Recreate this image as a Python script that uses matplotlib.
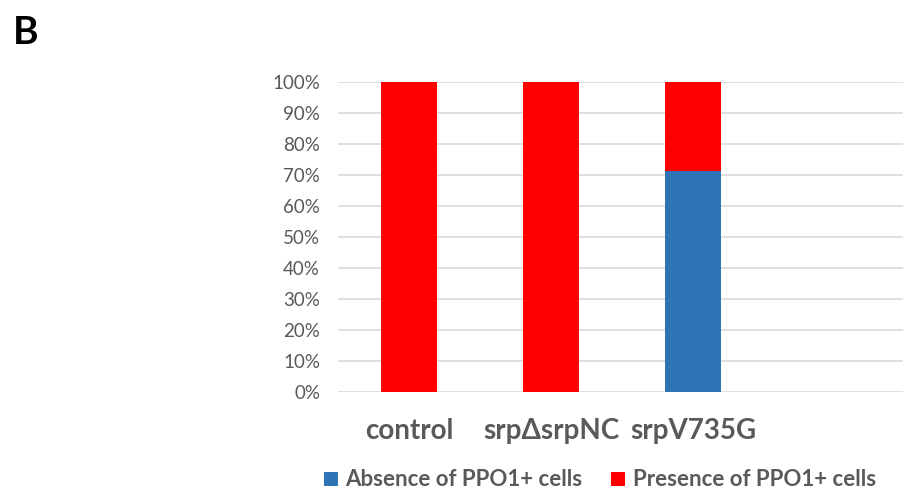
import matplotlib.pyplot as plt
import numpy as np
from matplotlib.ticker import PercentFormatter

categories = ['control', 'srp\u0394srpNC', 'srpV735G']
absence = [0, 0, 71.4]
presence = [100, 100, 28.6]

plt.rcParams['font.family'] = ['Lato', 'DejaVu Sans']

fig = plt.figure(figsize=(9.04, 4.91), dpi=100)
ax = fig.add_axes([0.374, 0.2016, 0.626, 0.631])

x = np.arange(len(categories))
ax.bar(x, absence, 0.40, color='#2E75B6', label='Absence of PPO1+ cells', zorder=3)
ax.bar(x, presence, 0.40, bottom=absence, color='#FF0000', label='Presence of PPO1+ cells', zorder=3)

ax.set_xlim(-0.5, 3.486)
ax.set_ylim(0, 100)
ax.set_yticks(np.arange(0, 101, 10))
ax.yaxis.set_major_formatter(PercentFormatter(decimals=0))
ax.grid(axis='y', color='#D9D9D9', linewidth=1.2, zorder=0)
for s in ax.spines.values():
    s.set_visible(False)
ax.tick_params(axis='y', length=0, pad=13, labelsize=13.5, labelcolor='#595959')
ax.set_xticks(x)
ax.set_xticklabels(categories, fontsize=20, fontweight='bold', color='#595959')
ax.tick_params(axis='x', length=0, pad=19)

fig.legend(loc='center', bbox_to_anchor=(600 / 904, 1 - 480 / 491), ncol=2, frameon=False,
           prop={'size': 16, 'weight': 'bold'}, labelcolor='#595959',
           handlelength=0.6, handleheight=0.6, handletextpad=0.35, columnspacing=1.3)

fig.text(26 / 904, 1 - 32 / 491, 'B', fontsize=28, fontweight='bold', ha='center', va='center')

fig.savefig('out.png', dpi=100)
